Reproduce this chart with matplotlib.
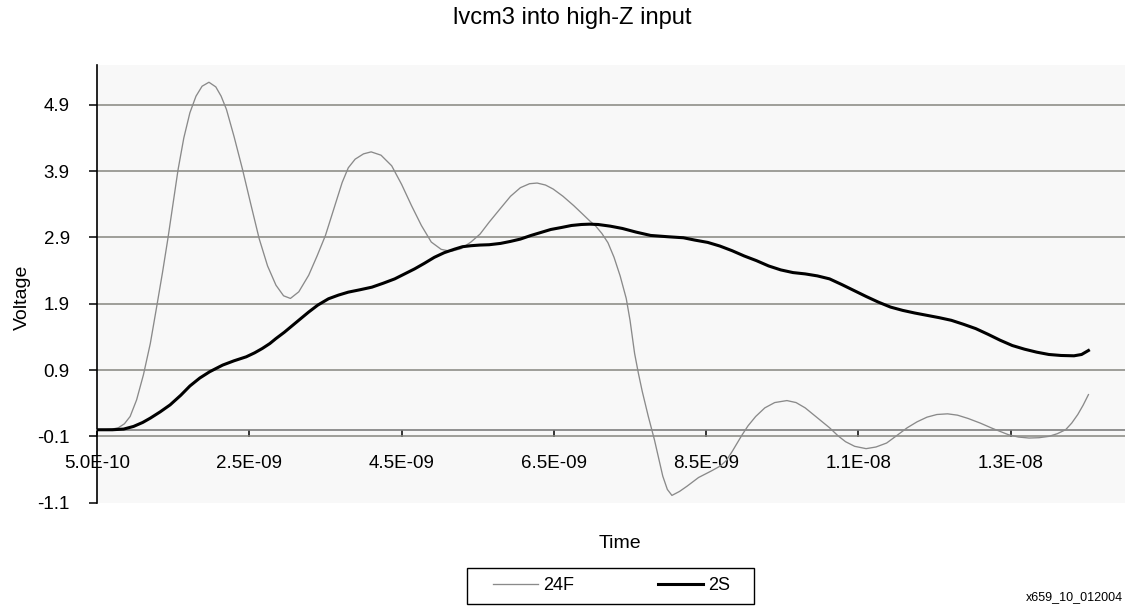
import matplotlib
matplotlib.use("Agg")
import matplotlib.pyplot as plt
from matplotlib.patches import Rectangle
import numpy as np

plt.rcParams["font.family"] = ["Liberation Sans", "DejaVu Sans"]

# Waveform samples (time in ns, voltage in V)
time_24f_ns = [0.5, 0.6, 0.7, 0.78, 0.86, 0.935, 1.02, 1.11, 1.2, 1.28, 1.36, 1.43,
               1.5, 1.565, 1.64, 1.72, 1.8, 1.88, 1.97, 2.06, 2.13, 2.2, 2.3, 2.41,
               2.52, 2.63, 2.74, 2.85, 2.95, 3.04, 3.15, 3.28, 3.39, 3.5, 3.61, 3.72,
               3.8, 3.89, 4.0, 4.1, 4.23, 4.37, 4.5, 4.63, 4.76, 4.89, 5.02, 5.15,
               5.28, 5.41, 5.53, 5.65, 5.8, 5.93, 6.06, 6.18, 6.28, 6.39, 6.49, 6.62,
               6.76, 6.87, 6.97, 7.05, 7.13, 7.21, 7.29, 7.37, 7.45, 7.5, 7.56, 7.61,
               7.66, 7.74, 7.82, 7.88, 7.93, 7.99, 8.05, 8.15, 8.25, 8.4, 8.57, 8.68,
               8.76, 8.84, 8.97, 9.05, 9.15, 9.27, 9.4, 9.56, 9.68, 9.8, 9.96, 10.12,
               10.23, 10.33, 10.45, 10.6, 10.73, 10.87, 11.0, 11.14, 11.27, 11.4,
               11.53, 11.67, 11.8, 11.94, 12.1, 12.26, 12.47, 12.6, 12.74, 12.87,
               13.0, 13.11, 13.22, 13.3, 13.38, 13.45, 13.52]
volt_24f = [0.0, 0.0, 0.01, 0.03, 0.09, 0.2, 0.45, 0.83, 1.3, 1.83, 2.37, 2.875,
            3.42, 3.925, 4.4, 4.78, 5.03, 5.18, 5.24, 5.17, 5.03, 4.83, 4.42, 3.93,
            3.4, 2.88, 2.47, 2.18, 2.02, 1.98, 2.08, 2.33, 2.62, 2.93, 3.33, 3.73,
            3.95, 4.08, 4.16, 4.19, 4.14, 3.98, 3.7, 3.38, 3.08, 2.83, 2.72, 2.69,
            2.73, 2.83, 2.95, 3.13, 3.34, 3.52, 3.65, 3.71, 3.72, 3.69, 3.63, 3.52,
            3.38, 3.26, 3.15, 3.07, 2.96, 2.82, 2.6, 2.32, 1.98, 1.65, 1.15, 0.85,
            0.58, 0.2, -0.15, -0.45, -0.7, -0.9, -0.99, -0.93, -0.85, -0.72, -0.62, -0.55,
            -0.47, -0.33, -0.08, 0.06, 0.2, 0.33, 0.41, 0.44, 0.41, 0.33, 0.18, 0.03,
            -0.09, -0.18, -0.25, -0.285, -0.26, -0.2, -0.09, 0.03, 0.12, 0.19,
            0.23, 0.24, 0.22, 0.17, 0.1, 0.02, -0.075, -0.11, -0.125, -0.12,
            -0.1, -0.06, 0.0, 0.1, 0.23, 0.37, 0.53]

time_2s_ns = [0.5, 0.7, 0.85, 0.98, 1.1, 1.2, 1.33, 1.46, 1.6, 1.72, 1.85, 1.98,
              2.15, 2.3, 2.46, 2.57, 2.67, 2.77, 2.85, 2.96, 3.07, 3.18, 3.28, 3.4,
              3.54, 3.67, 3.8, 3.95, 4.11, 4.26, 4.41, 4.54, 4.67, 4.8, 4.93, 5.06,
              5.2, 5.3, 5.41, 5.53, 5.65, 5.8, 5.93, 6.06, 6.2, 6.33, 6.46, 6.6,
              6.73, 6.86, 6.97, 7.08, 7.24, 7.4, 7.58, 7.77, 8.0, 8.2, 8.35, 8.52,
              8.68, 8.84, 9.0, 9.16, 9.32, 9.48, 9.64, 9.8, 9.96, 10.12, 10.28, 10.44,
              10.6, 10.76, 10.92, 11.08, 11.24, 11.4, 11.56, 11.72, 11.88, 12.04,
              12.2, 12.36, 12.52, 12.68, 12.84, 13.0, 13.16, 13.33, 13.43, 13.52]
volt_2s = [0.0, 0.0, 0.01, 0.05, 0.11, 0.175, 0.27, 0.375, 0.52, 0.66, 0.78, 0.875,
           0.975, 1.04, 1.1, 1.16, 1.225, 1.3, 1.375, 1.47, 1.575, 1.68, 1.775, 1.88,
           1.975, 2.03, 2.075, 2.11, 2.15, 2.21, 2.275, 2.35, 2.425, 2.51, 2.6, 2.67,
           2.725, 2.76, 2.775, 2.785, 2.79, 2.81, 2.84, 2.875, 2.93, 2.975, 3.02, 3.05,
           3.08, 3.095, 3.1, 3.095, 3.07, 3.035, 2.98, 2.93, 2.91, 2.895, 2.86, 2.825,
           2.77, 2.7, 2.62, 2.55, 2.47, 2.41, 2.37, 2.35, 2.32, 2.275, 2.19, 2.1,
           2.01, 1.925, 1.85, 1.8, 1.76, 1.725, 1.69, 1.65, 1.59, 1.525,
           1.44, 1.35, 1.27, 1.215, 1.17, 1.135, 1.12, 1.115, 1.135, 1.195]

series_names = ["24F", "2S"]

x_tick_values = [5.0e-10, 2.5e-9, 4.5e-9, 6.5e-9, 8.5e-9, 1.05e-8, 1.25e-8]
x_tick_labels = ["5.0E-10", "2.5E-09", "4.5E-09", "6.5E-09", "8.5E-09", "1.1E-08", "1.3E-08"]
y_tick_values = [-1.1, -0.1, 0.9, 1.9, 2.9, 3.9, 4.9]
y_tick_labels = ["-1.1", "-0.1", "0.9", "1.9", "2.9", "3.9", "4.9"]

W, H = 1125, 607
fig = plt.figure(figsize=(W / 100, H / 100), dpi=100)
fig.patch.set_facecolor("white")

ax_left, ax_right, ax_top, ax_bottom = 97, 1125, 65, 502.7
ax = fig.add_axes([ax_left / W, 1 - ax_bottom / H,
                   (ax_right - ax_left) / W, (ax_bottom - ax_top) / H])
ax.set_facecolor("#f8f8f8")

t24 = np.array(time_24f_ns) * 1e-9
t2 = np.array(time_2s_ns) * 1e-9
ax.plot(t24, volt_24f, color="#8a8a8a", lw=0.95, label=series_names[0], zorder=3,
        solid_joinstyle="round")
ax.plot(t2, volt_2s, color="black", lw=2.2, label=series_names[1], zorder=4,
        solid_joinstyle="round")

ax.set_xlim(5.0e-10, 1.4e-8)
ax.set_ylim(-1.1, 5.5)

ax.set_yticks(y_tick_values, y_tick_labels)
ax.set_xticks(x_tick_values, x_tick_labels)
ax.set_axisbelow(True)
ax.grid(axis="y", color="#8a8a84", lw=1.15)
ax.grid(axis="x", visible=False)
ax.yaxis.get_gridlines()[0].set_visible(False)

for side in ("top", "right"):
    ax.spines[side].set_visible(False)
ax.spines["left"].set_color("black")
ax.spines["left"].set_linewidth(1.2)
ax.spines["bottom"].set_position(("data", 0))
ax.spines["bottom"].set_color("#7e7e7e")
ax.spines["bottom"].set_linewidth(1.2)

ax.tick_params(axis="x", direction="out", length=5, width=1.1, color="black",
               pad=13.5, labelsize=13.5)
ax.tick_params(axis="y", direction="out", length=6, width=1.1, color="black",
               pad=13.7, labelsize=13.5)

fig.text(572 / W, 1 - 18 / H, "lvcm3 into high-Z input", ha="center", va="center",
         fontsize=17)
fig.text(22 / W, 1 - 297 / H, "Voltage", rotation=90, ha="center", va="center",
         fontsize=14)
fig.text(620 / W, 1 - 548 / H, "Time", ha="center", va="baseline", fontsize=14)

# Legend box and entries
fig.patches.append(Rectangle((467 / W, 1 - 604 / H), (754 - 467) / W, (604 - 568) / H,
                             transform=fig.transFigure, facecolor="white",
                             edgecolor="black", lw=1.0, zorder=5))
handles, labels = ax.get_legend_handles_labels()
leg = fig.legend(handles, labels, loc="center left",
                 bbox_to_anchor=(493 / W, 1 - 586 / H), ncol=2, frameon=False,
                 fontsize=13, handlelength=2.5, handletextpad=0.3,
                 columnspacing=4.6, borderpad=0, borderaxespad=0)
leg.set_zorder(6)

fig.text(1123 / W, 1 - 597 / H, "x659_10_012004", ha="right", va="center",
         fontsize=9)

fig.savefig("out.png", dpi=100)
